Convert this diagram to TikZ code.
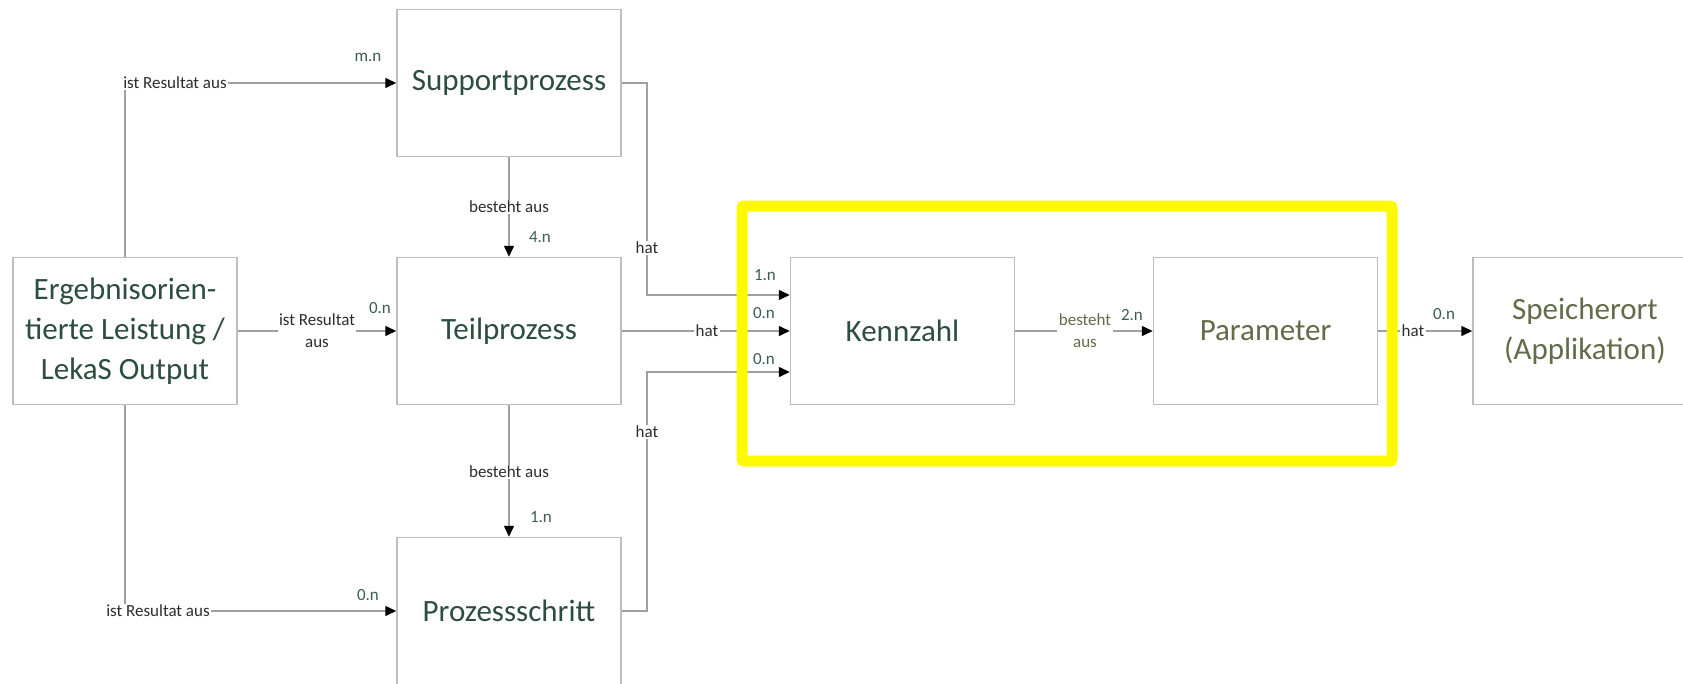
\documentclass[tikz,border=0pt]{standalone}
\usepackage{fontspec}
\setmainfont{Carlito}
\usetikzlibrary{arrows.meta,calc}
\definecolor{boxline}{RGB}{190,190,190}
\definecolor{connline}{RGB}{160,160,160}
\definecolor{boxtext}{RGB}{45,78,62}
\definecolor{olivetext}{RGB}{98,108,72}
\definecolor{multtext}{RGB}{60,92,86}
\definecolor{labtext}{RGB}{45,45,45}
\definecolor{hiyellow}{RGB}{255,250,0}
\tikzset{
  entity/.style={draw=boxline, line width=1.5pt, fill=white, minimum width=224pt, minimum height=147pt,
    inner sep=0pt, align=center, text=boxtext, font=\fontsize{31}{40}\selectfont},
  conn/.style={draw=connline, line width=1.5pt},
  arr/.style={conn, -{Triangle[length=11pt,width=10pt,color=black]}},
  rel/.style={fill=white, inner sep=1.5pt, text=labtext, font=\fontsize{17}{22}\selectfont, align=center},
  mult/.style={inner sep=0pt, text=multtext, font=\fontsize{17}{20}\selectfont},
  highlight/.style={draw=hiyellow, line width=11pt, rounded corners=2pt}
}
\begin{document}
\begin{tikzpicture}[x=1pt,y=-1pt]
\useasboundingbox (0,0) rectangle (1683,683);
\fill[white] (0,0) rectangle (1683,683);

% entities
\node[entity] (erg) at (125,331) {Ergebnisorien-\\tierte Leistung /\\LekaS Output};
\node[entity] (sup) at (509,83) {Supportprozess};
\node[entity] (teil) at (509,331) {Teilprozess};
\node[entity] (proz) at (509,611) {Prozessschritt};
\node[entity] (kenn) at (902.5,331) {Kennzahl};
\node[entity, text=olivetext] (param) at (1265.5,331) {Parameter};
\node[entity, text=olivetext] (spei) at (1585,331) {Speicherort\\(Applikation)};

% bend points
\coordinate (c1) at (647,295);
\coordinate (c3) at (647,372);

% connectors
\draw[arr] (erg.north) |- (sup.west);
\draw[arr] (erg.east) -- (teil.west);
\draw[arr] (erg.south) |- (proz.west);
\draw[arr] (sup.south) -- (teil.north);
\draw[arr] (teil.south) -- (proz.north);
\draw[arr] (sup.east) -| (c1) -- (kenn.west |- c1);
\draw[arr] (teil.east) -- (kenn.west);
\draw[arr] (proz.east) -| (c3) -- (kenn.west |- c3);
\draw[arr] (kenn.east) -- (param.west);
\draw[arr] (param.east) -- (spei.west);

% highlight frame
\draw[highlight] (742,206) rectangle (1392,461);

% relation labels
\node[rel] (l1) at (175,83) {ist Resultat aus};
\node[rel] (l2) at (317,331) {ist Resultat\\aus};
\node[rel] (l3) at (158,611) {ist Resultat aus};
\node[rel] (l4) at (509,207) {besteht aus};
\node[rel] (l5) at (509,472) {besteht aus};
\node[rel] (l6) at (647,248) {hat};
\node[rel] (l7) at (707,331) {hat};
\node[rel] (l8) at (647,432) {hat};
\node[rel, text=olivetext] (l9) at (1085,331) {besteht\\aus};
\node[rel] (l10) at (1413,331) {hat};

% multiplicities
\node[mult] (m1) at (368,57) {m.n};
\node[mult] (m2) at (380,308) {0.n};
\node[mult] (m3) at (368,595) {0.n};
\node[mult] (m4) at (540,237) {4.n};
\node[mult] (m5) at (541,517) {1.n};
\node[mult] (m6) at (765,275) {1.n};
\node[mult] (m7) at (764,313) {0.n};
\node[mult] (m8) at (764,359) {0.n};
\node[mult] (m9) at (1132,315) {2.n};
\node[mult] (m10) at (1444,314) {0.n};
\end{tikzpicture}
\end{document}
